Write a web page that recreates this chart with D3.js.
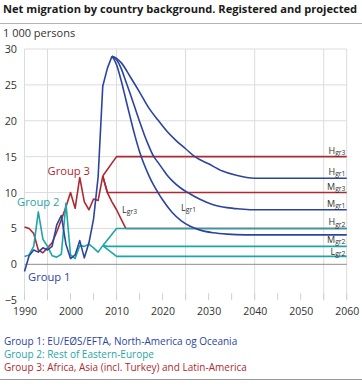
<!DOCTYPE html>
<html>
<head>
<meta charset="utf-8">
<script src="https://cdn.jsdelivr.net/npm/d3@7"></script>
<style>
  body { margin: 0; background: #fff; }
  svg { display: block; font-family: "Open Sans", sans-serif; }
</style>
</head>
<body>
<div id="chart"></div>
<script>
// registered values, 1 000 persons
const histYears1 = [1990, 1991, 1992, 1993, 1994, 1995, 1996, 1997, 1998, 1999, 2000, 2001, 2002, 2003, 2004, 2005, 2006, 2007, 2008, 2009];
const group1Hist = [-1.0, 1.2, 2.0, 1.7, 2.3, 2.0, 2.5, 5.5, 6.8, 2.8, 0.8, 1.3, 3.3, 0.9, 3.0, 6.3, 12.2, 24.8, 27.3, 29.0];

const histYears23 = [1990, 1991, 1992, 1993, 1994, 1995, 1996, 1997, 1998, 1999, 2000, 2001, 2002, 2003, 2004, 2005, 2006, 2007];
const group2Hist = [1.1, 1.3, 2.5, 7.3, 3.5, 2.5, 1.2, 1.0, 1.4, 8.5, 1.3, 0.8, 2.6, 2.5, 2.8, 2.3, 1.7, 2.6];
const group3Hist = [5.2, 5.0, 4.3, 2.0, 1.6, 2.3, 3.0, 4.5, 6.2, 8.0, 10.0, 7.8, 12.1, 8.7, 7.6, 9.1, 8.9, 12.3];

// projections
const g1HighYears = [2009, 2010, 2011, 2013, 2015, 2017, 2019, 2021, 2023, 2025, 2027, 2030, 2033, 2036, 2040, 2060];
const g1High      = [29.0, 28.7, 28.1, 26.1, 24.0, 21.8, 20.1, 18.5, 17.2, 16.1, 15.0, 14.0, 13.0, 12.4, 12.0, 12.0];
const g1MedYears  = [2009, 2010, 2011, 2012, 2013, 2014, 2015, 2016, 2017, 2018, 2019, 2020, 2021, 2022, 2024, 2026, 2028, 2031, 2034, 2037, 2039, 2060];
const g1Med       = [29.0, 28.5, 27.3, 25.5, 23.7, 21.8, 19.9, 18.1, 16.5, 15.1, 14.2, 13.3, 12.4, 11.7, 10.6, 9.8, 9.1, 8.3, 7.9, 7.7, 7.6, 7.6];
const g1LowYears  = [2009, 2010, 2011, 2012, 2013, 2014, 2015, 2016, 2017, 2018, 2019, 2020, 2022, 2024, 2026, 2028, 2031, 2034, 2038, 2060];
const g1Low       = [29.0, 27.8, 25.6, 23.0, 20.4, 17.9, 15.7, 13.9, 12.4, 11.1, 10.0, 9.0, 7.3, 6.1, 5.3, 4.8, 4.4, 4.2, 4.1, 4.1];

const g2HighYears = [2007, 2010, 2060];
const g2High      = [2.6, 5.0, 5.0];
const g2MedYears  = [2007, 2008, 2060];
const g2Med       = [2.6, 2.5, 2.5];
const g2LowYears  = [2007, 2010, 2060];
const g2Low       = [2.6, 1.1, 1.1];

const g3HighYears = [2007, 2010, 2060];
const g3High      = [12.3, 15.0, 15.0];
const g3MedYears  = [2007, 2008, 2060];
const g3Med       = [12.3, 10.0, 10.0];
const g3LowYears  = [2007, 2008, 2009, 2010, 2011, 2012, 2060];
const g3Low       = [12.3, 10.0, 8.7, 7.6, 6.3, 5.0, 5.0];

const yTicks = [-5, 0, 5, 10, 15, 20, 25, 30];
const xTicks = [1990, 2000, 2010, 2020, 2030, 2040, 2050, 2060];
const xGrid = [1990, 1995, 2010, 2025, 2040, 2055, 2060];
const xMinor = [1990, 1995, 2000, 2005, 2010, 2015, 2020, 2025, 2030, 2035, 2040, 2045, 2050, 2055, 2060];

const legendLines = [
  "Group 1: EU/EØS/EFTA, North-America og Oceania",
  "Group 2: Rest of Eastern-Europe",
  "Group 3: Africa, Asia (incl. Turkey) and Latin-America"
];

const blue = "#2b459f", teal = "#1fa5a8", red = "#ad2a30";

const width = 362, height = 388;
const svg = d3.select("#chart").append("svg")
  .attr("width", width).attr("height", height);

const x = d3.scaleLinear().domain([1990, 2060]).range([24.5, 346.7]);
const y = d3.scaleLinear().domain([-5, 30]).range([300.2, 49]);

// header
svg.append("text").attr("x", 3).attr("y", 13)
  .attr("font-size", 11.1).attr("font-weight", "bold").attr("fill", "#1a1a1a")
  .text("Net migration by country background. Registered and projected");
svg.append("line").attr("x1", 0).attr("x2", width).attr("y1", 23.5).attr("y2", 23.5)
  .attr("stroke", "#b4b4b4").attr("stroke-width", 1.2);
svg.append("text").attr("x", 3).attr("y", 36.5)
  .attr("font-size", 11).attr("fill", "#333")
  .text("1 000 persons");

// grid
svg.append("g").selectAll("line").data(yTicks.filter(d => d > 0)).enter().append("line")
  .attr("x1", x(1990)).attr("x2", x(2060))
  .attr("y1", d => y(d)).attr("y2", d => y(d))
  .attr("stroke", "#dcdcdc");
svg.append("g").selectAll("line").data(xGrid).enter().append("line")
  .attr("x1", d => x(d)).attr("x2", d => x(d))
  .attr("y1", y(30)).attr("y2", y(-5))
  .attr("stroke", "#dcdcdc");
svg.append("g").selectAll("line").data(xMinor).enter().append("line")
  .attr("x1", d => x(d)).attr("x2", d => x(d))
  .attr("y1", y(-5) - 7).attr("y2", y(-5))
  .attr("stroke", "#d0d0d0");
svg.append("line").attr("x1", x(1990)).attr("x2", x(2060))
  .attr("y1", y(0)).attr("y2", y(0))
  .attr("stroke", "#8c8c8c");

// axes
const yAxis = svg.append("g").attr("transform", "translate(" + x(1990) + ",0)")
  .call(d3.axisLeft(y).tickValues(yTicks).tickSize(0).tickPadding(7.5).tickFormat(d3.format("d")));
yAxis.select(".domain").remove();
yAxis.selectAll("text").attr("font-size", 10.8).attr("fill", "#333").attr("font-family", "Open Sans");

const xAxis = svg.append("g").attr("transform", "translate(0," + y(-5) + ")")
  .call(d3.axisBottom(x).tickValues(xTicks).tickSize(0).tickPadding(7).tickFormat(d3.format("d")));
xAxis.select(".domain").remove();
xAxis.selectAll("text").attr("font-size", 10.5).attr("fill", "#333").attr("font-family", "Open Sans");

// series
const line = d3.line().x(d => x(d[0])).y(d => y(d[1]));
const smooth = d3.line().x(d => x(d[0])).y(d => y(d[1])).curve(d3.curveMonotoneX);
const zip = (a, b) => a.map((v, i) => [v, b[i]]);

function draw(years, vals, color, gen) {
  svg.append("path").datum(zip(years, vals))
    .attr("fill", "none").attr("stroke", color).attr("stroke-width", 1.6)
    .attr("stroke-linejoin", "round")
    .attr("d", gen || line);
}

draw(g3LowYears, g3Low, red);
draw(g3MedYears, g3Med, red);
draw(g3HighYears, g3High, red);
draw(histYears23, group3Hist, red);

draw(g2LowYears, g2Low, teal);
draw(g2MedYears, g2Med, teal);
draw(g2HighYears, g2High, teal);
draw(histYears23, group2Hist, teal);

draw(g1LowYears, g1Low, blue, smooth);
draw(g1MedYears, g1Med, blue, smooth);
draw(g1HighYears, g1High, blue, smooth);
draw(histYears1, group1Hist, blue);

// group labels
svg.append("text").attr("x", 47.5).attr("y", 175).attr("font-size", 11.2).attr("fill", red).text("Group 3");
svg.append("text").attr("x", 17).attr("y", 206).attr("font-size", 11.2).attr("fill", teal).text("Group 2");
svg.append("text").attr("x", 28).attr("y", 281).attr("font-size", 11.2).attr("fill", blue).text("Group 1");

// scenario labels
function scen(px, py, main, sub, anchor) {
  const t = svg.append("text").attr("x", px).attr("y", py)
    .attr("fill", "#333").attr("font-size", 9).attr("text-anchor", anchor || "start");
  t.append("tspan").text(main);
  t.append("tspan").attr("font-size", 6.8).attr("dy", 1.2).text(sub);
}
const rx = 345.5;
scen(rx, y(15) - 3, "H", "gr3", "end");
scen(rx, y(12) - 3, "H", "gr1", "end");
scen(rx, y(10) - 3, "M", "gr3", "end");
scen(rx, y(7.6) - 3, "M", "gr1", "end");
scen(rx, y(5) - 3, "H", "gr2", "end");
scen(rx, y(2.5) - 3.2, "M", "gr2", "end");
scen(rx, y(1.1) - 1.5, "L", "gr2", "end");
scen(122, 213, "L", "gr3");
scen(181, 211, "L", "gr1");

// legend
svg.append("g").selectAll("text").data(legendLines).enter().append("text")
  .attr("x", 4).attr("y", (d, i) => 344.5 + i * 13.3)
  .attr("font-size", 10)
  .attr("fill", (d, i) => [blue, teal, red][i])
  .text(d => d);
svg.append("line").attr("x1", 0).attr("x2", width).attr("y1", 379.5).attr("y2", 379.5)
  .attr("stroke", "#9a9a9a").attr("stroke-width", 1.2);
</script>
</body>
</html>
